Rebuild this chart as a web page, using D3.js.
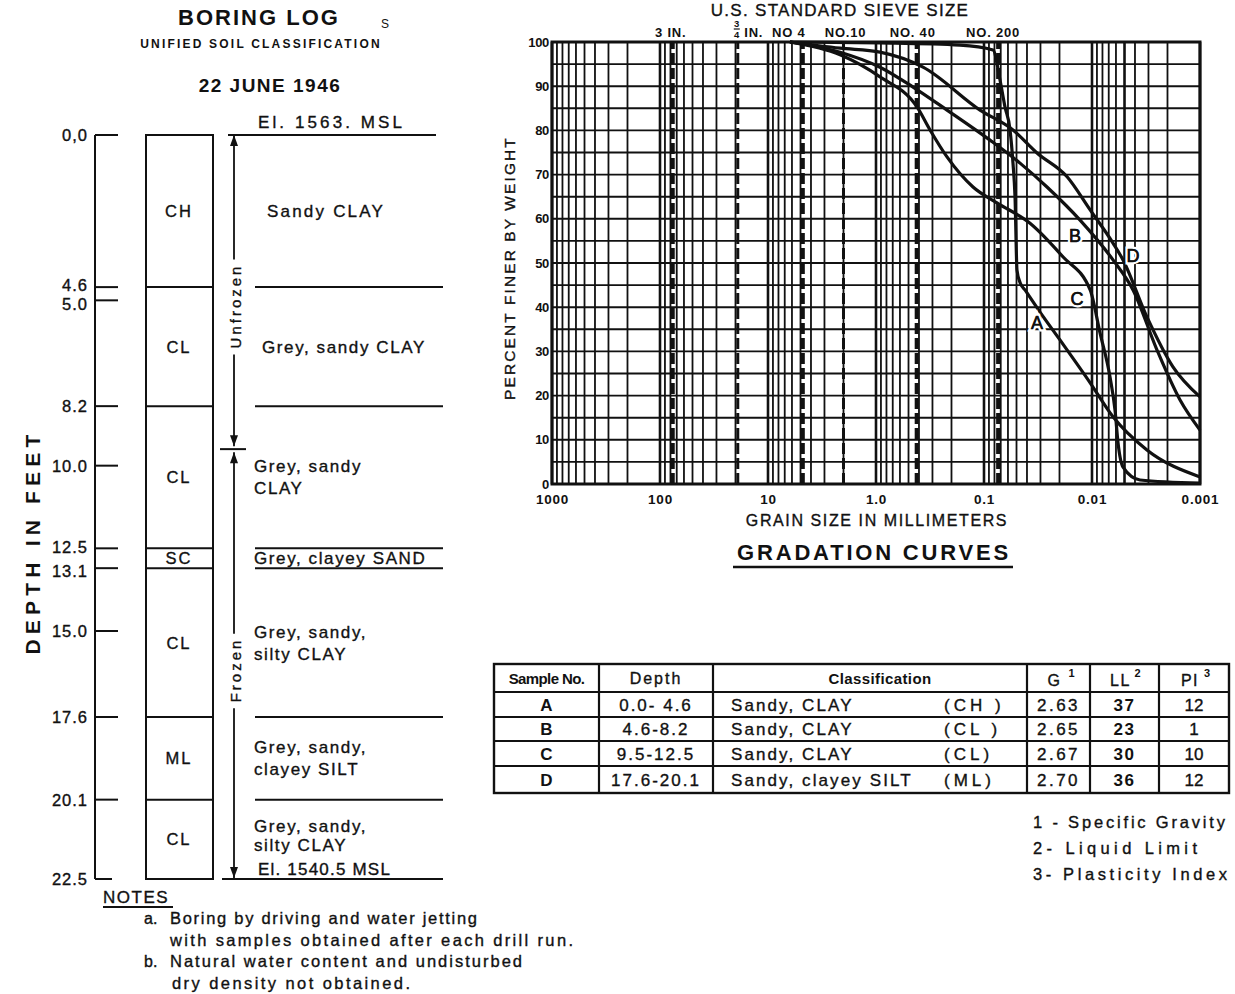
<!DOCTYPE html>
<html><head><meta charset="utf-8">
<script src="https://cdn.jsdelivr.net/npm/d3@7"></script>
<style>
body{margin:0;background:#fff;}
svg text{font-family:"Liberation Sans","DejaVu Sans",Arial,sans-serif;fill:#111;}
</style></head><body>
<svg id="c" width="1235" height="994"></svg>
<script>
// ================= DATA =================
// Boring log
const depthTicks = [0, 4.6, 5.0, 8.2, 10.0, 12.5, 13.1, 15.0, 17.6, 20.1, 22.5];
const depthTickLabels = ["0,0","4.6","5.0","8.2","10.0","12.5","13.1","15.0","17.6","20.1","22.5"];
const layerTops = [0, 4.6, 8.2, 12.5, 13.1, 17.6, 20.1];
const layerBottoms = [4.6, 8.2, 12.5, 13.1, 17.6, 20.1, 22.5];
const layerCodes = ["CH","CL","CL","SC","CL","ML","CL"];
const layerDescriptions = [["Sandy  CLAY"],["Grey, sandy CLAY"],["Grey, sandy","CLAY"],["Grey, clayey SAND"],["Grey, sandy,","silty CLAY"],["Grey, sandy,","clayey SILT"],["Grey, sandy,","silty CLAY"]];
const frostLabels = ["Unfrozen","Frozen"];
const frostFrom = [0, 9.5];
const frostTo = [9.5, 22.5];
const elevationTop = "El. 1563.  MSL";
const elevationBottom = "El. 1540.5 MSL";

// Gradation curves
const grainTickValues = [1000, 100, 10, 1, 0.1, 0.01, 0.001];
const grainTickLabels = ["1000","100","10","1.0","0.1","0.01","0.001"];
const percentTicks = [0,10,20,30,40,50,60,70,80,90,100];
const sieveNames = ["3 IN.","IN.","NO 4","NO.10","NO. 40","NO. 200"];
const sieveSizesMm = [76.2, 19.05, 4.76, 2.0, 0.42, 0.074];
const curveA = [[6.26,100],[0.918,99.8],[0.167,99.3],[0.0825,98.2],[0.0711,91.4],[0.0639,85.3],[0.0574,80.1],[0.0539,72.6],[0.0516,64.9],[0.0495,48.4],[0.0464,45.6],[0.0417,43.9],[0.0303,38.9],[0.0198,32.6],[0.0104,22.9],[0.00639,15.2],[0.0031,7.7],[0.001,1.6]];
const curveB = [[6.26,100],[2.15,97.7],[0.918,94.3],[0.454,89.8],[0.22,84.6],[0.088,77.8],[0.0464,72.6],[0.0261,67.2],[0.0129,59.7],[0.00639,50.7],[0.00417,43.9],[0.0025,30.3],[0.00153,19.0],[0.001,12.2]];
const curveC = [[6.26,100],[2.15,97.1],[0.918,92.1],[0.417,85.3],[0.316,80.1],[0.22,74.0],[0.1264,67.2],[0.0758,63.6],[0.0375,59.0],[0.0186,51.4],[0.0104,43.9],[0.00843,34.2],[0.00681,24.2],[0.00612,16.7],[0.00574,9.3],[0.00516,3.8],[0.00359,0.9],[0.001,0.2]];
const curveD = [[6.26,100],[2.15,98.6],[0.918,97.7],[0.367,94.3],[0.1089,84.6],[0.0539,80.1],[0.0323,74.9],[0.017,69.5],[0.0104,62.0],[0.00639,54.5],[0.00516,50.7],[0.0031,37.8],[0.00178,26.5],[0.001,19.7]];
const curveNames = ["A","B","C","D"];
const curveLabelMm = [0.0323, 0.01436, 0.01376, 0.00417];
const curveLabelPct = [36.7, 56.3, 42.1, 51.8];

// Sample table
const tableHeaders = ["Sample No.","Depth","Classification","G","LL","PI"];
const headerSup = ["","","","1","2","3"];
const sampleIds = ["A","B","C","D"];
const sampleDepths = ["0.0- 4.6","4.6-8.2","9.5-12.5","17.6-20.1"];
const sampleClass = ["Sandy, CLAY","Sandy, CLAY","Sandy, CLAY","Sandy, clayey SILT"];
const sampleGroup = ["(CH )","(CL )","(CL)","(ML)"];
const sampleG = ["2.63","2.65","2.67","2.70"];
const sampleLL = ["37","23","30","36"];
const samplePI = ["12","1","10","12"];
const footnotes = ["1 - Specific Gravity","2- Liquid Limit","3- Plasticity Index"];
const notesLetters = ["a.","","b.",""];
const notesLines = ["Boring by driving and water jetting","with samples obtained after each drill run.","Natural water content and undisturbed","dry density not obtained."];

const footnoteWidths = [192, 164, 194];
const noteWidths = [307, 403, 352, 238];

// ================= DRAW =================
const svg = d3.select("#c");
const K = "#111";
function T(x, y, s, o = {}) {
  const t = svg.append("text").attr("x", x).attr("y", y).text(s)
    .attr("font-size", o.size || 16)
    .attr("font-weight", o.bold ? "bold" : "normal")
    .attr("text-anchor", o.anchor || "start");
  if (!o.bold) t.attr("stroke", K).attr("stroke-width", o.sw == null ? 0.35 : o.sw);
  if (o.ls) t.attr("letter-spacing", o.ls);
  if (o.w) t.attr("textLength", o.w).attr("lengthAdjust", "spacing");
  if (o.family) t.style("font-family", o.family);
  if (o.rot) t.attr("transform", `rotate(${o.rot},${x},${y})`);
  return t;
}
function L(x1, y1, x2, y2, w = 2, dash) {
  const l = svg.append("line").attr("x1", x1).attr("y1", y1).attr("x2", x2).attr("y2", y2)
    .attr("stroke", K).attr("stroke-width", w);
  if (dash) l.attr("stroke-dasharray", dash);
  return l;
}

// ---------- Boring log ----------
T(259, 25, "BORING LOG", {size: 22, bold: true, anchor: "middle", ls: 2});
T(385, 28, "S", {size: 12, anchor: "middle", sw: 0});
T(261, 48, "UNIFIED  SOIL  CLASSIFICATION", {size: 12, bold: true, anchor: "middle", ls: 2.2});
T(270, 92, "22 JUNE 1946", {size: 19, bold: true, anchor: "middle", ls: 1.5});
T(258, 128, elevationTop, {size: 17, w: 144});
T(40, 542, "DEPTH  IN  FEET", {size: 21, bold: true, anchor: "middle", ls: 5.2, rot: -90});

const dy = d3.scaleLinear().domain([0, 22.5]).range([135, 879]);
// depth axis
L(95, dy(0), 95, dy(22.5), 2);
depthTicks.forEach((d, i) => {
  L(95, dy(d), i === depthTicks.length - 1 ? 112 : 118, dy(d), 2);
  const nudge = depthTickLabels[i] === "4.6" ? -2 : (depthTickLabels[i] === "5.0" ? 4 : (depthTickLabels[i] === "12.5" ? -1 : (depthTickLabels[i] === "13.1" ? 3 : 0)));
  T(88, dy(d) + 6 + nudge, depthTickLabels[i], {size: 16.5, anchor: "end", ls: 1});
});
// soil column
svg.append("rect").attr("x", 146).attr("y", dy(0)).attr("width", 67).attr("height", dy(22.5) - dy(0))
  .attr("fill", "none").attr("stroke", K).attr("stroke-width", 2);
layerTops.forEach((t, i) => {
  if (i > 0) L(146, dy(t), 213, dy(t), 2);
  const mid = (dy(t) + dy(layerBottoms[i])) / 2;
  T(179, mid + 6, layerCodes[i], {size: 16.5, anchor: "middle", ls: 2});
  const lines = layerDescriptions[i];
  const x0 = i === 0 ? 267 : (i === 1 ? 262 : 254);
  const off = lines.length === 1 ? [0] : (i === 6 ? [-13, 6] : [-11, 11]);
  lines.forEach((s, j) => T(x0, mid + 6 + off[j], s, {size: 17, ls: i === 0 ? 2.2 : 1.6}));
});
// description boundary lines
L(228, dy(0), 436, dy(0), 2);
layerBottoms.forEach((b, i) => {
  if (i < layerBottoms.length - 1) L(255, dy(b), 443, dy(b), 2);
  else L(222, dy(b), 443, dy(b), 2);
});
T(258, 875, elevationBottom, {size: 17, ls: 1.2});

// frost zones with arrows
const ax = 234;
function arrowHead(y, dir) { // dir -1 up, +1 down; tip at y
  svg.append("path").attr("d", `M${ax},${y} L${ax - 4},${y - dir * 11} L${ax + 4},${y - dir * 11} Z`).attr("fill", K);
}
frostLabels.forEach((lab, i) => {
  const y0 = dy(frostFrom[i]) + (i === 0 ? 0 : 3), y1 = dy(frostTo[i]) - (i === 0 ? 3 : 1);
  const mid = i === 0 ? 306 : 670;
  const t = T(ax + 7, mid, lab, {size: 15, anchor: "middle", ls: 3, rot: -90});
  const bb = t.node().getBBox();
  const h = bb.width;
  L(ax, y0, ax, mid - h / 2 - 4, 1.8);
  L(ax, mid + h / 2 + 6, ax, y1, 1.8);
  arrowHead(y0, -1);
  arrowHead(y1, 1);
});
L(220, dy(9.5), 246, dy(9.5), 2);

// Notes
T(103, 903, "NOTES", {size: 17, ls: 1.5});
L(103, 907, 173, 907, 1.8);
notesLines.forEach((n, i) => {
  const yy = 924 + i * 21.5;
  if (notesLetters[i]) T(144, yy, notesLetters[i], {size: 16});
  T(i === 3 ? 172 : 170, yy, n, {size: 16.5, w: noteWidths[i]});
});

// ---------- Gradation curves ----------
const x = d3.scaleLog().domain([1000, 0.001]).range([552, 1200]);
const y = d3.scaleLinear().domain([0, 100]).range([484, 42]);
const g = svg.append("g");
const isDecade = v => Math.abs(Math.log10(v) - Math.round(Math.log10(v))) < 1e-6;
x.ticks().forEach(v => {
  const w = isDecade(v) ? 2.6 : (Math.abs(v - 0.005) < 1e-9 ? 2.6 : 1.8);
  g.append("line").attr("x1", x(v)).attr("x2", x(v)).attr("y1", y(0)).attr("y2", y(100))
    .attr("stroke", K).attr("stroke-width", w);
});
y.ticks(20).forEach(v => {
  g.append("line").attr("x1", x(1000)).attr("x2", x(0.001)).attr("y1", y(v)).attr("y2", y(v))
    .attr("stroke", K).attr("stroke-width", 1.9);
});
// sieve lines
sieveSizesMm.forEach((s, i) => {
  g.append("line").attr("x1", x(s)).attr("x2", x(s)).attr("y1", y(0)).attr("y2", y(100))
    .attr("stroke", K).attr("stroke-width", i === 1 || i === 3 ? 3 : 4).attr("stroke-dasharray", "11,4");
});
g.append("rect").attr("x", x(1000)).attr("y", y(100)).attr("width", x(0.001) - x(1000)).attr("height", y(0) - y(100))
  .attr("fill", "none").attr("stroke", K).attr("stroke-width", 3);

// curves
const line = d3.line().x(d => x(d[0])).y(d => y(d[1])).curve(d3.curveMonotoneX);
[curveA, curveB, curveC, curveD].forEach(c => {
  g.append("path").attr("d", line(c)).attr("fill", "none").attr("stroke", K).attr("stroke-width", 3.2);
});
curveNames.forEach((n, i) => {
  svg.append("text").attr("x", x(curveLabelMm[i])).attr("y", y(curveLabelPct[i]) + 7).text(n)
    .attr("font-size", 18).attr("text-anchor", "middle")
    .attr("stroke", "#fff").attr("stroke-width", 5).style("paint-order", "stroke");
  svg.append("text").attr("x", x(curveLabelMm[i])).attr("y", y(curveLabelPct[i]) + 7).text(n)
    .attr("font-size", 18).attr("text-anchor", "middle").attr("stroke", K).attr("stroke-width", 0.5);
});

// axes
const yAxis = svg.append("g").attr("transform", `translate(${x(1000)},0)`)
  .call(d3.axisLeft(y).tickValues(percentTicks).tickSize(0).tickPadding(3));
yAxis.select(".domain").remove();
yAxis.selectAll("text").attr("font-size", 13).attr("font-weight", "bold").attr("letter-spacing", -0.3).style("font-family", '"Liberation Sans",Arial,sans-serif');
const xAxis = svg.append("g").attr("transform", `translate(0,${y(0)})`)
  .call(d3.axisBottom(x).tickValues(grainTickValues).tickFormat((d, i) => grainTickLabels[i]).tickSize(0).tickPadding(10));
xAxis.select(".domain").remove();
xAxis.selectAll("text").attr("font-size", 13.5).attr("font-weight", "bold").attr("letter-spacing", 0.8).style("font-family", '"Liberation Sans",Arial,sans-serif');

// sieve labels
const sieveDx = [-2, 16, -14, 2, -4, -5];
sieveNames.forEach((s, i) => {
  T(x(sieveSizesMm[i]) + sieveDx[i], 37, s, {size: 13, bold: true, anchor: "middle", ls: 0.8});
});
// stacked 3/4 fraction
T(x(19.05) - 1, 27, "3", {size: 9.5, bold: true, anchor: "middle"});
T(x(19.05) - 1, 38, "4", {size: 9.5, bold: true, anchor: "middle"});
L(x(19.05) - 4, 29, x(19.05) + 2, 29, 1.2);
T(840, 16, "U.S. STANDARD SIEVE SIZE", {size: 17, anchor: "middle", ls: 1.3});
T(515, 268, "PERCENT FINER BY WEIGHT", {size: 15.5, anchor: "middle", ls: 2.1, rot: -90});
T(877, 526, "GRAIN SIZE IN MILLIMETERS", {size: 16, anchor: "middle", ls: 1.6});
T(874, 560, "GRADATION  CURVES", {size: 22, bold: true, anchor: "middle", ls: 2.8});
L(733, 567, 1013, 567, 2.5);

// ---------- Table ----------
const colEdges = [494, 599, 713, 1027, 1090, 1159, 1229];
const rowEdges = [664, 692, 717, 741, 766, 793];
svg.append("rect").attr("x", colEdges[0]).attr("y", rowEdges[0]).attr("width", colEdges[6] - colEdges[0])
  .attr("height", rowEdges[5] - rowEdges[0]).attr("fill", "none").attr("stroke", K).attr("stroke-width", 2.4);
colEdges.slice(1, -1).forEach(c => L(c, rowEdges[0], c, rowEdges[5], 2.2));
rowEdges.slice(1, -1).forEach(r => L(colEdges[0], r, colEdges[6], r, 2.2));
const cc = i => (colEdges[i] + colEdges[i + 1]) / 2;
tableHeaders.forEach((h, i) => {
  const xx = i === 2 ? 880 : cc(i) - (headerSup[i] ? 4 : 0);
  if (i === 0) T(xx, 684, h, {size: 15, bold: true, anchor: "middle", ls: -0.6});
  else if (i === 1) T(xx, 684, h, {size: 16, anchor: "middle", ls: 2});
  else if (i === 2) T(xx, 684, h, {size: 15, bold: true, anchor: "middle", ls: 0.4});
  else T(xx, 686, h, {size: 16, anchor: "middle", ls: 1.5});
  if (headerSup[i]) T(cc(i) + 10, 677, headerSup[i], {size: 11, bold: true});
});
sampleIds.forEach((s, r) => {
  const yy = (rowEdges[r + 1] + rowEdges[r + 2]) / 2 + 6;
  T(cc(0), yy, s, {size: 17, bold: true, anchor: "middle"});
  T(cc(1), yy, sampleDepths[r], {size: 17, anchor: "middle", ls: 2});
  T(731, yy, sampleClass[r], {size: 17, ls: 2.1});
  T(944, yy, sampleGroup[r], {size: 17, ls: 4});
  T(cc(3), yy, sampleG[r], {size: 17, anchor: "middle", ls: 2.5});
  T(cc(4), yy, sampleLL[r], {size: 17, bold: true, anchor: "middle", ls: 1.5});
  T(cc(5), yy, samplePI[r], {size: 17, anchor: "middle"});
});
footnotes.forEach((f, i) => T(1033, 828 + i * 26, f, {size: 16.5, w: footnoteWidths[i]}));
</script>
</body></html>
